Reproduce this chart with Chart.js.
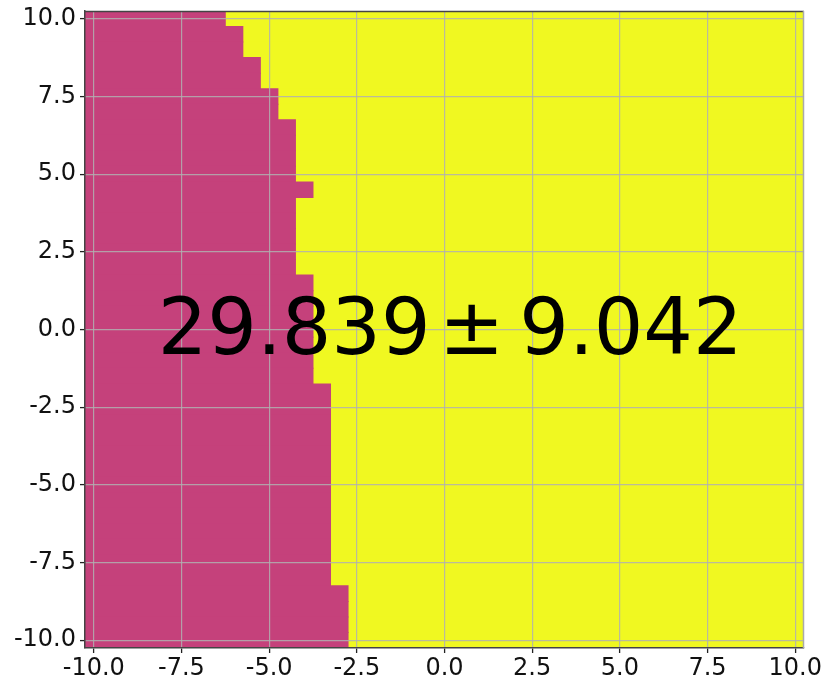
<!DOCTYPE html>
<html>
<head>
<meta charset="utf-8">
<script src="https://cdn.jsdelivr.net/npm/chart.js@4.4.1/dist/chart.umd.min.js"></script>
<style>
  html, body { margin: 0; padding: 0; background: #ffffff; }
  canvas { display: block; }
</style>
</head>
<body>
<canvas id="c" width="830" height="690"></canvas>
<script>
// Grid rows (y centres of the 41 decision-map rows, step 0.5)
const rowY = [10, 9.5, 9, 8.5, 8, 7.5, 7, 6.5, 6, 5.5, 5, 4.5, 4, 3.5, 3, 2.5, 2, 1.5, 1, 0.5, 0,
  -0.5, -1, -1.5, -2, -2.5, -3, -3.5, -4, -4.5, -5, -5.5, -6, -6.5, -7, -7.5, -8, -8.5, -9, -9.5, -10];
// x position of the class boundary on each row (left = class A, right = class B)
const boundaryX = [-6.25, -5.75, -5.75, -5.25, -5.25, -4.75, -4.75, -4.25, -4.25, -4.25, -4.25, -3.75,
  -4.25, -4.25, -4.25, -4.25, -4.25, -3.75, -3.75, -3.75, -3.75, -3.75, -3.75, -3.75,
  -3.25, -3.25, -3.25, -3.25, -3.25, -3.25, -3.25, -3.25, -3.25, -3.25, -3.25, -3.25, -3.25,
  -2.75, -2.75, -2.75, -2.75];
const extentX = [-10.25, 10.25];
const extentY = [-10.25, 10.25];
const tickValues = [-10, -7.5, -5, -2.5, 0, 2.5, 5, 7.5, 10];
const scoreText = ["29.839", "\u00b1", "9.042"];

const colorA = "rgb(197,65,123)";
const colorB = "rgb(240,248,33)";

const leftBars = rowY.map((y, i) => ({ x: [extentX[0], boundaryX[i]], y: y }));
const rightBars = rowY.map((y, i) => ({ x: [boundaryX[i], extentX[1]], y: y }));

const framePlugin = {
  id: "frame",
  beforeDatasetsDraw(chart) {
    const { ctx, chartArea: a } = chart;
    ctx.save();
    ctx.fillStyle = colorB;
    ctx.fillRect(a.left, a.top, a.right - a.left, a.bottom - a.top);
    ctx.restore();
  },
  afterDraw(chart) {
    const { ctx, chartArea: a, scales } = chart;
    ctx.save();
    // top & right spines
    ctx.lineWidth = 1.5;
    ctx.strokeStyle = "#444";
    ctx.beginPath();
    ctx.moveTo(a.left, a.top + 0.5);
    ctx.lineTo(a.right, a.top + 0.5);
    ctx.stroke();
    ctx.strokeStyle = "#aaa";
    ctx.beginPath();
    ctx.moveTo(a.right - 0.5, a.top);
    ctx.lineTo(a.right - 0.5, a.bottom);
    ctx.stroke();
    // score annotation at data (0,0)
    const cx = scales.x.getPixelForValue(0);
    const cy = scales.y.getPixelForValue(0);
    ctx.fillStyle = "#000";
    ctx.font = "78px 'DejaVu Sans'";
    ctx.textBaseline = "alphabetic";
    ctx.textAlign = "left";
    const lefts = [-281.8, 2.5, 78.8];
    scoreText.forEach((t, i) => {
      const m = ctx.measureText(t);
      ctx.fillText(t, cx + lefts[i] + m.actualBoundingBoxLeft, cy + 24);
    });
    ctx.restore();
  }
};

const tickFont = { family: "DejaVu Sans", size: 24 };
const gridOpts = {
  color: "rgba(176,176,176,0.85)",
  lineWidth: 1.2,
  tickColor: "#222",
  tickLength: 5,
  tickWidth: 1.3,
  offset: false,
  z: 1
};

new Chart(document.getElementById("c"), {
  type: "bar",
  data: {
    datasets: [
      { data: leftBars, backgroundColor: colorA, grouped: false, barPercentage: 1, categoryPercentage: 1,
        inflateAmount: 0.5, order: 1 },
      { data: rightBars, backgroundColor: colorB, grouped: false, barPercentage: 1, categoryPercentage: 1,
        inflateAmount: 0.5, order: 2 }
    ]
  },
  options: {
    indexAxis: "y",
    responsive: false,
    animation: false,
    devicePixelRatio: 1,
    layout: { padding: { top: 11, right: 26, left: 0, bottom: 0 } },
    plugins: { legend: { display: false }, tooltip: { enabled: false } },
    scales: {
      x: {
        type: "linear",
        min: extentX[0], max: extentX[1],
        offset: false,
        afterBuildTicks: s => { s.ticks = tickValues.map(v => ({ value: v })); },
        afterFit: s => { s.height = 42; s.paddingLeft = 0; s.paddingRight = 0; },
        ticks: { font: tickFont, color: "#111", padding: 1, maxRotation: 0, autoSkip: false, z: 1,
                 callback: v => Number(v).toFixed(1) },
        grid: gridOpts,
        border: { color: "#444", width: 1.5, z: 1 }
      },
      y: {
        type: "linear",
        min: extentY[0], max: extentY[1],
        offset: false,
        afterBuildTicks: s => { s.ticks = tickValues.map(v => ({ value: v })); },
        afterFit: s => { s.width = 85; s.paddingTop = 0; s.paddingBottom = 0; },
        ticks: { font: tickFont, color: "#111", padding: 4, autoSkip: false, z: 1,
                 callback: v => Number(v).toFixed(1) },
        grid: gridOpts,
        border: { color: "#444", width: 1.5, z: 1 }
      }
    }
  },
  plugins: [framePlugin]
});
</script>
</body>
</html>
